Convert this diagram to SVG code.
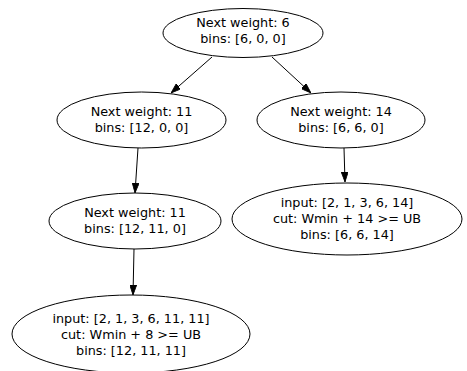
<svg xmlns="http://www.w3.org/2000/svg" width="467" height="371" viewBox="0 0 467 371">
<defs>
<style>
.n ellipse{fill:none;stroke:#000;stroke-width:1}
.n text{font-family:"DejaVu Sans",sans-serif;font-size:12.8px;text-anchor:middle;fill:#000}
.e line{stroke:#000;stroke-width:1}
</style>
<marker id="ah" viewBox="0 0 10 10" refX="10" refY="5" markerWidth="10" markerHeight="7" markerUnits="userSpaceOnUse" orient="auto" preserveAspectRatio="none">
<path d="M0,0 L10,5 L0,10 Z" fill="#000" stroke="#000"/>
</marker>
</defs>
<rect width="467" height="371" fill="#fff"/>
<g id="edges" class="e">
<line x1="212" y1="57" x2="171" y2="93" marker-end="url(#ah)"/>
<line x1="272" y1="57" x2="311" y2="93" marker-end="url(#ah)"/>
<line x1="138" y1="148" x2="135" y2="193" marker-end="url(#ah)"/>
<line x1="344" y1="148" x2="345" y2="182" marker-end="url(#ah)"/>
<line x1="134" y1="249" x2="133" y2="295" marker-end="url(#ah)"/>
</g>
<g id="n1" class="n">
<ellipse cx="243" cy="33" rx="80" ry="24.5"/>
<text x="243" y="27">Next weight: 6</text>
<text x="243" y="43">bins: [6, 0, 0]</text>
</g>
<g id="n2" class="n">
<ellipse cx="141.5" cy="120" rx="84.5" ry="28"/>
<text x="141.5" y="116">Next weight: 11</text>
<text x="141.5" y="132">bins: [12, 0, 0]</text>
</g>
<g id="n3" class="n">
<ellipse cx="135" cy="221" rx="86" ry="28"/>
<text x="135" y="217">Next weight: 11</text>
<text x="135" y="233">bins: [12, 11, 0]</text>
</g>
<g id="n4" class="n">
<ellipse cx="131" cy="334" rx="119" ry="39"/>
<text x="131" y="323">input: [2, 1, 3, 6, 11, 11]</text>
<text x="131" y="339">cut: Wmin + 8 &gt;= UB</text>
<text x="131" y="355">bins: [12, 11, 11]</text>
</g>
<g id="n5" class="n">
<ellipse cx="341" cy="120" rx="84" ry="28"/>
<text x="341" y="116">Next weight: 14</text>
<text x="341" y="132">bins: [6, 6, 0]</text>
</g>
<g id="n6" class="n">
<ellipse cx="347" cy="219" rx="115" ry="36"/>
<text x="347" y="207">input: [2, 1, 3, 6, 14]</text>
<text x="347" y="223">cut: Wmin + 14 &gt;= UB</text>
<text x="347" y="239">bins: [6, 6, 14]</text>
</g>
</svg>
